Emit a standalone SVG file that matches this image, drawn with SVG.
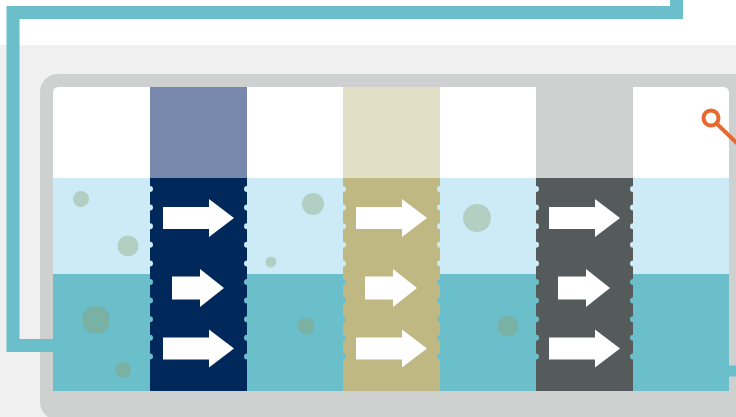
<svg xmlns="http://www.w3.org/2000/svg" width="736" height="417" viewBox="0 0 736 417">
<style>
.pipe{fill:none;stroke:#6bbfca;stroke-width:13;stroke-linejoin:miter}
.arrow{fill:#ffffff}
.bub1{fill:#b3cfc3}
.bub2{fill:#79b1a5}
.dotA{stroke:#cdeaf7;stroke-width:6;stroke-linecap:round;stroke-dasharray:0 18.6}
.dotB{stroke:#6bbfca;stroke-width:6;stroke-linecap:round;stroke-dasharray:0 18.6}
</style>
<defs>
<polygon id="arrowBig" points="13,-11 59,-11 59,-19 84,0 59,19 59,11 13,11"/>
<polygon id="arrowSmall" points="22,-11.5 50,-11.5 50,-19 74,0 50,19 50,11.5 22,11.5"/>
<clipPath id="inner"><path d="M53 391 V93 Q53 87 59 87 H723 Q729 87 729 93 V391 Z"/></clipPath>
</defs>
<rect x="0" y="0" width="736" height="417" fill="#ffffff"/>
<rect x="0" y="45" width="736" height="372" fill="#eff0ef"/>
<g id="tank">
<rect x="40" y="74" width="720" height="346" rx="18" fill="#cfd1d0"/>
<g clip-path="url(#inner)">
<rect x="53" y="87" width="676" height="304" fill="#ffffff"/>
<rect x="53" y="178" width="676" height="96" fill="#cdeaf7"/>
<rect x="53" y="274" width="676" height="117" fill="#6bbfca"/>
</g>
</g>
<g id="bubbles">
<circle class="bub1" cx="81" cy="199" r="8"/>
<circle class="bub1" cx="128" cy="246" r="10.5"/>
<circle class="bub2" cx="96" cy="320" r="14"/>
<circle class="bub2" cx="123" cy="370" r="8"/>
<circle class="bub1" cx="313" cy="204" r="11"/>
<circle class="bub1" cx="271" cy="262" r="5.5"/>
<circle class="bub2" cx="306" cy="326" r="8.5"/>
<circle class="bub1" cx="477" cy="218" r="14"/>
<circle class="bub2" cx="508" cy="326" r="10.5"/>
</g>
<g id="column1">
<rect x="150" y="87" width="97" height="91" fill="#7888ad"/>
<rect x="150" y="178" width="97" height="213" fill="#00285a"/>
</g>
<g id="column2">
<rect x="343" y="87" width="97" height="91" fill="#e3dfc6"/>
<rect x="343" y="178" width="97" height="213" fill="#bfb882"/>
</g>
<g id="column3">
<rect x="536" y="87" width="97" height="91" fill="#cdd0cf"/>
<rect x="536" y="178" width="97" height="213" fill="#555b5b"/>
</g>
<g id="edges">
<line class="dotA" x1="150" y1="189" x2="150" y2="270"/>
<line class="dotA" x1="247" y1="189" x2="247" y2="270"/>
<line class="dotA" x1="343" y1="189" x2="343" y2="270"/>
<line class="dotA" x1="440" y1="189" x2="440" y2="270"/>
<line class="dotA" x1="536" y1="189" x2="536" y2="270"/>
<line class="dotA" x1="633" y1="189" x2="633" y2="270"/>
<line class="dotB" x1="150" y1="282" x2="150" y2="360"/>
<line class="dotB" x1="247" y1="282" x2="247" y2="360"/>
<line class="dotB" x1="343" y1="282" x2="343" y2="360"/>
<line class="dotB" x1="440" y1="282" x2="440" y2="360"/>
<line class="dotB" x1="536" y1="282" x2="536" y2="360"/>
<line class="dotB" x1="633" y1="282" x2="633" y2="360"/>
</g>
<g id="arrows">
<use href="#arrowBig" class="arrow" x="150" y="218"/>
<use href="#arrowSmall" class="arrow" x="150" y="288"/>
<use href="#arrowBig" class="arrow" x="150" y="348.5"/>
<use href="#arrowBig" class="arrow" x="343" y="218"/>
<use href="#arrowSmall" class="arrow" x="343" y="288"/>
<use href="#arrowBig" class="arrow" x="343" y="348.5"/>
<use href="#arrowBig" class="arrow" x="536" y="218"/>
<use href="#arrowSmall" class="arrow" x="536" y="288"/>
<use href="#arrowBig" class="arrow" x="536" y="348.5"/>
</g>
<g id="connectors">
<path class="pipe" d="M676.5 0 V12.5 H13 V345.5 H53"/>
<path class="pipe" d="M729 371 H740" style="stroke-width:11"/>
</g>
<g id="probe" fill="none" stroke="#e8692e" stroke-width="4">
<circle cx="711" cy="118" r="7.5"/>
<line x1="716.5" y1="123.5" x2="740" y2="146"/>
</g>
</svg>
